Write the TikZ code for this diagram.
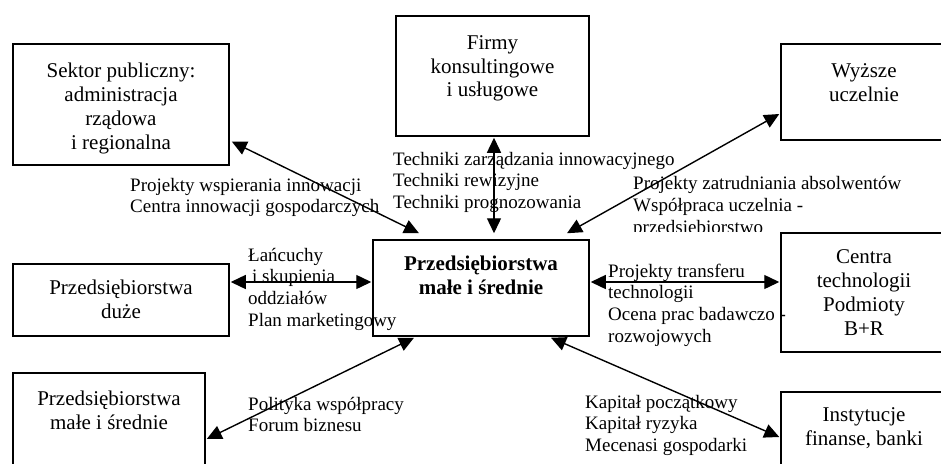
\documentclass[tikz,border=0pt]{standalone}
\usepackage{fontspec}
\setmainfont{Liberation Serif}
\usetikzlibrary{arrows.meta,calc}
\newcommand\bxt[4]{\parbox[t][#2][t]{#1}{\centering\vspace*{\dimexpr#3-16.8pt\relax}\strut#4}}
\newcommand\lbl[1]{\begin{tabular}[t]{@{}l@{}}#1\end{tabular}}
\tikzset{
  box/.style={draw, line width=1.5pt, inner sep=0pt, font=\fontsize{21}{24}\selectfont},
  lab/.style={inner sep=0pt, anchor=base west, font=\fontsize{19}{21.8}\selectfont},
  conn/.style={{Triangle[length=15pt,width=14pt]}-{Triangle[length=15pt,width=14pt]}, line width=1.4pt}
}
\begin{document}
\begin{tikzpicture}[x=1pt,y=-1pt]
\useasboundingbox (0,0) rectangle (941,463);
\clip (0,0) rectangle (941,463);
\fill[white] (0,0) rectangle (941,463);
% boxes
\node[box] (sektor) at (121,104.5) {\bxt{216pt}{121pt}{33pt}{Sektor publiczny:\\administracja\\rządowa\\i regionalna}};
\node[box] (firmy) at (492.5,76) {\bxt{193pt}{120pt}{33pt}{Firmy\\konsultingowe\\i usługowe}};
\node[box] (wyzsze) at (864,92) {\bxt{166pt}{96pt}{33pt}{Wyższe\\uczelnie}};
\node[box] (msp) at (481,288) {\bxt{216pt}{96pt}{30pt}{\bfseries Przedsiębiorstwa\\małe i średnie}};
\node[box] (duze) at (121,300) {\bxt{216pt}{72pt}{30pt}{Przedsiębiorstwa\\duże}};
\node[box] (centra) at (864,292.5) {\bxt{166pt}{119pt}{30pt}{Centra\\technologii\\Podmioty\\B+R}};
\node[box] (msp2) at (109,423) {\bxt{192pt}{100pt}{32pt}{Przedsiębiorstwa\\małe i średnie}};
\node[box] (inst) at (864,442) {\bxt{166pt}{100pt}{29pt}{Instytucje\\finanse, banki}};
% labels
\node[lab] (l1) at (130,191) {\lbl{Projekty wspierania innowacji\\Centra innowacji gospodarczych}};
\node[lab] (l2) at (393,165) {\lbl{Techniki zarządzania innowacyjnego\\Techniki rewizyjne\\Techniki prognozowania}};
\begin{scope}
\clip (600,160) rectangle (941,231.5);
\node[lab] (l3) at (633,189.5) {\lbl{Projekty zatrudniania absolwentów\\Współpraca uczelnia -\\przedsiębiorstwo}};
\end{scope}
\node[lab] (l4) at (248,261) {\lbl{Łańcuchy\\\hspace{4pt}i skupienia\\oddziałów\\Plan marketingowy}};
\node[lab] (l5) at (608,277) {\lbl{Projekty transferu\\technologii\\Ocena prac badawczo -\\rozwojowych}};
\node[lab] (l6) at (248,410) {\lbl{Polityka współpracy\\Forum biznesu}};
\node[lab] (l7) at (585,408) {\lbl{Kapitał początkowy\\Kapitał ryzyka\\Mecenasi gospodarki}};
% connectors
\draw[conn] ($(sektor.east)+(2,37)$) -- ($(msp.north)+(-62,-6)$);
\draw[conn] ($(firmy.south)+(1.5,1)$) -- ($(msp.north)+(13,-6)$);
\draw[conn] ($(wyzsze.west)+(-1,22)$) -- ($(msp.north)+(86,-6)$);
\draw[conn] ($(duze.east)+(1,-18)$) -- ($(msp.west)+(-1,-6)$);
\draw[conn] ($(msp.east)+(1,-6)$) -- ($(centra.west)+(-1,-10.5)$);
\draw[conn] ($(msp2.east)+(1,16)$) -- ($(msp.south)+(-67,1)$);
\draw[conn] ($(inst.west)+(-1,-5)$) -- ($(msp.south)+(70,1)$);
\end{tikzpicture}
\end{document}
